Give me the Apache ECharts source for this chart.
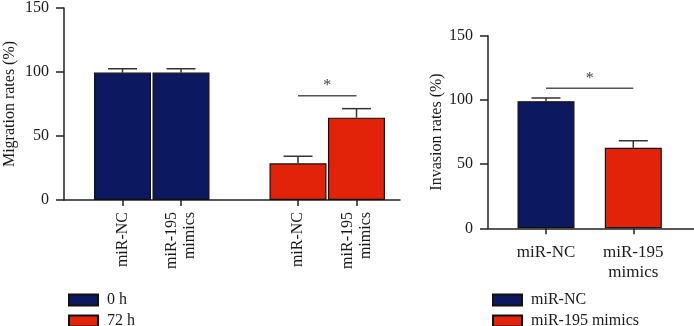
<!DOCTYPE html>
<html>
<head>
<meta charset="utf-8">
<script src="https://cdn.jsdelivr.net/npm/echarts@6/dist/echarts.min.js"></script>
<style>
  html, body { margin: 0; padding: 0; background: #fff; }
  #chart { width: 694px; height: 326px; }
</style>
</head>
<body>
<div id="chart"></div>
<script>
// migration panel (left)
const migrationCats = ['miR-NC', 'miR-195\nmimics', '', 'miR-NC', 'miR-195\nmimics'];
const migration0h = [99, 99, null, null, null];
const migration0hErr = [3, 3, null, null, null];
const migration72h = [null, null, null, 28.5, 64];
const migration72hErr = [null, null, null, 5.5, 7];
const migrationSig = [3, 4, 81];   // from, to, height

// invasion panel (right)
const invasionCats = ['miR-NC', 'miR-195\nmimics'];
const invasionNC = [99, null];
const invasionNCErr = [2.5, null];
const invasionMimics = [null, 62.7];
const invasionMimicsErr = [null, 5.5];
const invasionSig = [0, 1, 109];

const BLUE = '#0c1860';
const RED = '#e3220a';
const FONT = 'Liberation Serif';
const TXT = '#1a1a1a';

let myChart = echarts.init(document.getElementById('chart'));

function errData(vals, errs) {
  let out = [];
  vals.forEach(function (v, i) {
    if (v != null) out.push([i, v, errs[i]]);
  });
  return out;
}

function errSeries(xi, yi, vals, errs) {
  return {
    type: 'custom',
    xAxisIndex: xi,
    yAxisIndex: yi,
    silent: true,
    z: 1,
    data: errData(vals, errs),
    renderItem: function (params, api) {
      let lo = api.coord([api.value(0), api.value(1)]);
      let hi = api.coord([api.value(0), api.value(1) + api.value(2)]);
      let st = { stroke: '#333', lineWidth: 1.5 };
      return {
        type: 'group',
        children: [
          { type: 'line', shape: { x1: lo[0], y1: lo[1], x2: hi[0], y2: hi[1] }, style: st },
          { type: 'line', shape: { x1: hi[0] - 14.5, y1: hi[1], x2: hi[0] + 14.5, y2: hi[1] }, style: st }
        ]
      };
    }
  };
}

function sigSeries(xi, yi, sig) {
  return {
    type: 'custom',
    xAxisIndex: xi,
    yAxisIndex: yi,
    silent: true,
    data: [sig],
    renderItem: function (params, api) {
      let a = api.coord([api.value(0), api.value(2)]);
      let b = api.coord([api.value(1), api.value(2)]);
      return {
        type: 'group',
        children: [
          { type: 'line', shape: { x1: a[0], y1: a[1], x2: b[0], y2: b[1] },
            style: { stroke: '#555', lineWidth: 1.5 } },
          { type: 'text', x: (a[0] + b[0]) / 2, y: a[1] - 2,
            style: { text: '*', fill: '#444', font: '16px ' + FONT, align: 'center', verticalAlign: 'bottom' } }
        ]
      };
    }
  };
}

const barStyle = function (c) {
  return { color: c, borderColor: '#111', borderWidth: 1.2 };
};

const outerY = function (gi, name, gap) {
  return {
    type: 'value', gridIndex: gi, min: 0, max: 150, interval: 50,
    name: name, nameLocation: 'middle', nameGap: gap,
    nameTextStyle: { fontFamily: FONT, fontSize: 16, color: TXT },
    axisLine: { show: true, lineStyle: { color: '#222', width: 1.5 } },
    axisTick: { show: true, length: 8, lineStyle: { color: '#222', width: 1.5 } },
    axisLabel: { margin: 15, fontFamily: FONT, fontSize: 16, color: TXT },
    splitLine: { show: false }
  };
};
const innerY = function (gi) {
  return { type: 'value', gridIndex: gi, min: 0, max: 150, interval: 50, show: false };
};
const outerX = function (gi) {
  return {
    type: 'value', gridIndex: gi, min: 0, max: 1,
    axisLine: { show: true, onZero: false, lineStyle: { color: '#222', width: 1.5 } },
    axisTick: { show: false }, axisLabel: { show: false }, splitLine: { show: false }
  };
};
const innerX = function (gi, cats, rot) {
  return {
    type: 'category', gridIndex: gi, data: cats,
    axisLine: { show: false },
    axisTick: {
      show: true, alignWithLabel: true, length: 6,
      interval: function (i, v) { return v !== ''; },
      lineStyle: { color: '#222', width: 1.5 }
    },
    axisLabel: {
      interval: 0, rotate: rot, margin: rot ? 12 : 14,
      fontFamily: FONT, fontSize: rot ? 16 : 17, color: TXT, lineHeight: rot ? 18 : 20
    }
  };
};

const legendBase = {
  orient: 'vertical', top: 287, height: 60, itemWidth: 29, itemHeight: 11, itemGap: 5,
  icon: 'rect',
  textStyle: { fontFamily: FONT, fontSize: 16, lineHeight: 15, color: TXT, padding: [0, 0, 0, 4] }
};

let option = {
  animation: false,
  textStyle: { fontFamily: FONT },
  grid: [
    { left: 64, top: 7, width: 336, height: 193 },
    { left: 93.25, top: 7, width: 292.5, height: 193 },
    { left: 488, top: 35.7, width: 206, height: 192.6 },
    { left: 502.35, top: 35.7, width: 174.6, height: 192.6 }
  ],
  xAxis: [outerX(0), innerX(1, migrationCats, 90), outerX(2), innerX(3, invasionCats, 0)],
  yAxis: [outerY(0, 'Migration rates (%)', 46), innerY(1), outerY(2, 'Invasion rates (%)', 42), innerY(3)],
  legend: [
    Object.assign({}, legendBase, { left: 63, data: ['0 h', '72 h'] }),
    Object.assign({}, legendBase, { left: 487, data: ['miR-NC', 'miR-195 mimics'] })
  ],
  series: [
    { name: '0 h', type: 'bar', xAxisIndex: 1, yAxisIndex: 1, data: migration0h,
      barWidth: 57, barGap: '-100%', itemStyle: barStyle(BLUE), z: 2 },
    { name: '72 h', type: 'bar', xAxisIndex: 1, yAxisIndex: 1, data: migration72h,
      barWidth: 57, barGap: '-100%', itemStyle: barStyle(RED), z: 2 },
    errSeries(1, 1, migration0h, migration0hErr),
    errSeries(1, 1, migration72h, migration72hErr),
    sigSeries(1, 1, migrationSig),

    { name: 'miR-NC', type: 'bar', xAxisIndex: 3, yAxisIndex: 3, data: invasionNC,
      barWidth: 57, barGap: '-100%', itemStyle: barStyle(BLUE), z: 2 },
    { name: 'miR-195 mimics', type: 'bar', xAxisIndex: 3, yAxisIndex: 3, data: invasionMimics,
      barWidth: 57, barGap: '-100%', itemStyle: barStyle(RED), z: 2 },
    errSeries(3, 3, invasionNC, invasionNCErr),
    errSeries(3, 3, invasionMimics, invasionMimicsErr),
    sigSeries(3, 3, invasionSig)
  ]
};

myChart.setOption(option);
</script>
</body>
</html>
